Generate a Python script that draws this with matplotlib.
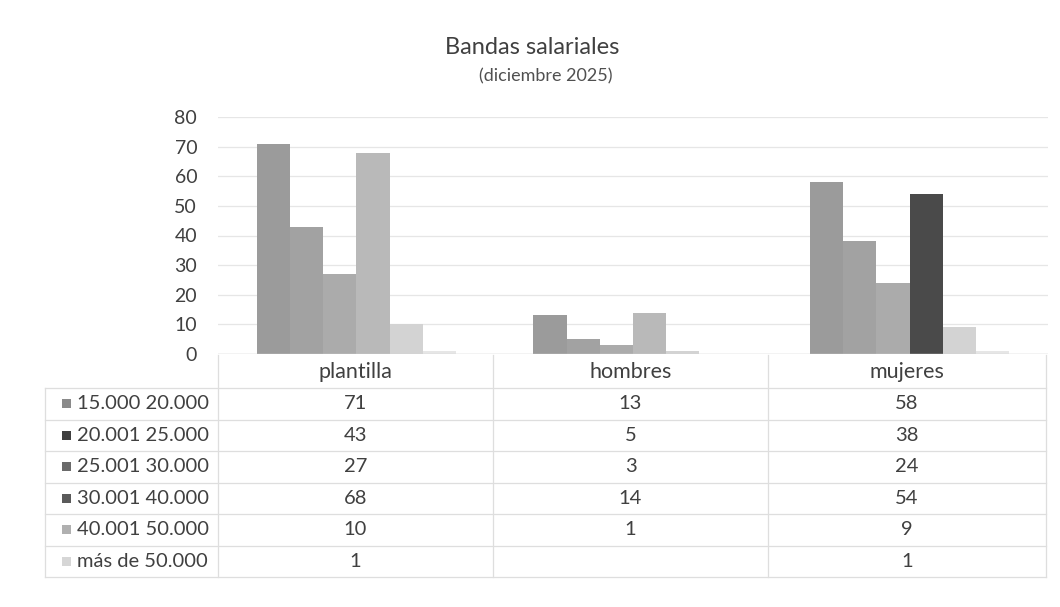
import matplotlib
matplotlib.use("Agg")
import matplotlib.pyplot as plt
import numpy as np

plt.rcParams['font.family'] = ['Lato', 'DejaVu Sans']

categories = ["plantilla", "hombres", "mujeres"]
bands = ["15.000 20.000", "20.001 25.000", "25.001 30.000",
         "30.001 40.000", "40.001 50.000", "más de 50.000"]
band_15_20 = [71, 13, 58]
band_20_25 = [43, 5, 38]
band_25_30 = [27, 3, 24]
band_30_40 = [68, 14, 54]
band_40_50 = [10, 1, 9]
band_50_plus = [1, None, 1]
series = [band_15_20, band_20_25, band_25_30, band_30_40, band_40_50, band_50_plus]
yticks = [0, 10, 20, 30, 40, 50, 60, 70, 80]

colors = ["#9b9b9b", "#a2a2a2", "#ababab", "#b9b9b9", "#d3d3d3", "#e6e6e6"]
key_colors = ["#8a8a8a", "#3f3f3f", "#6a6a6a", "#5a5a5a", "#b0b0b0", "#d6d6d6"]
# the 30.001-40.000 column of "mujeres" prints much darker
bar_colors = [[c, c, c] for c in colors]
bar_colors[3][2] = "#4a4a4a"

W, H = 1060, 607
fig = plt.figure(figsize=(W / 100, H / 100), dpi=100)


def fx(px):
    return px / W


def fy(py):
    return 1 - py / H


# chart area
left, right, top, bottom = 218, 1048, 117, 354
ax = fig.add_axes([fx(left), fy(bottom), fx(right) - fx(left), fy(top) - fy(bottom)])
n = len(series)
bw = 0.12
x = np.arange(len(categories))
for i, s in enumerate(series):
    vals = [v if v is not None else 0 for v in s]
    ax.bar(x + (i - (n - 1) / 2) * bw, vals, width=bw, color=bar_colors[i],
           edgecolor="none", zorder=2)
ax.set_xlim(-0.5, len(categories) - 0.5)
ax.set_ylim(0, 80)
ax.set_yticks(yticks)
ax.set_yticklabels([str(t) for t in yticks], fontsize=14, color="#404040")
ax.set_xticks([])
ax.tick_params(axis="y", length=0, pad=15)
ax.grid(axis="y", color="#e6e6e6", linewidth=0.9, zorder=0)
for sp in ax.spines.values():
    sp.set_visible(False)
ax.axhline(0, color="#d4d4d4", linewidth=1.0, zorder=3)

# title
fig.text(fx(532), fy(48), "Bandas salariales", ha="center", va="center",
         fontsize=17, color="#404040")
fig.text(fx(546), fy(76), "(diciembre 2025)", ha="center", va="center",
         fontsize=13, color="#505050")

# data table
col_edges = [218, 493, 768, 1046]
label_left = 45
row_h = 31.5
head_top = 355
head_bot = 388
row_tops = [head_bot + i * row_h for i in range(len(bands) + 1)]
line_c = "#dedede"

# header row
for j, cat in enumerate(categories):
    cx = (col_edges[j] + col_edges[j + 1]) / 2
    fig.text(fx(cx), fy((head_top + head_bot) / 2 + 1), cat, ha="center",
             va="center", fontsize=15.5, color="#404040")
for xe in col_edges:
    fig.add_artist(plt.Line2D([fx(xe), fx(xe)], [fy(head_top), fy(row_tops[-1])],
                              color=line_c, linewidth=0.9))
fig.add_artist(plt.Line2D([fx(label_left), fx(label_left)],
                          [fy(head_bot), fy(row_tops[-1])], color=line_c,
                          linewidth=0.9))
for yy in row_tops:
    fig.add_artist(plt.Line2D([fx(label_left), fx(col_edges[-1])], [fy(yy), fy(yy)],
                              color=line_c, linewidth=0.9))

for i, (band, s) in enumerate(zip(bands, series)):
    cy = row_tops[i] + row_h / 2
    fig.add_artist(plt.Rectangle((fx(62), fy(cy + 4.5)), fx(9), fy(0) - fy(9),
                                 facecolor=key_colors[i], edgecolor="none"))
    fig.text(fx(77), fy(cy), band, ha="left", va="center", fontsize=14.5,
             color="#404040")
    for j, v in enumerate(s):
        if v is None:
            continue
        cx = (col_edges[j] + col_edges[j + 1]) / 2
        fig.text(fx(cx), fy(cy), str(v), ha="center", va="center", fontsize=14.5,
                 color="#404040")

fig.savefig("out.png", dpi=100, facecolor="white")
